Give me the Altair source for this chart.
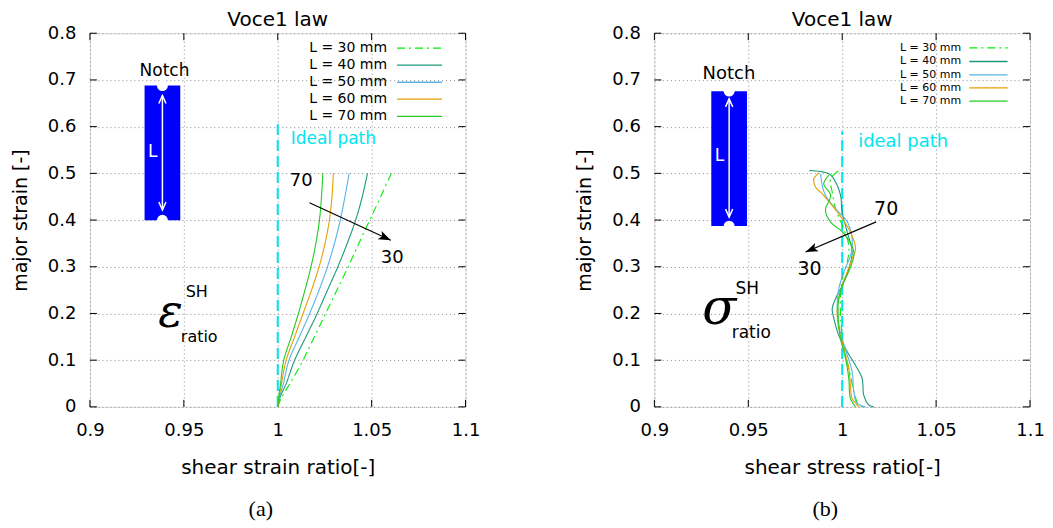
import altair as alt
import pandas as pd

# ---------------- data ----------------
x_ticks = [0.9, 0.95, 1.0, 1.05, 1.1]
y_ticks = [0.0, 0.1, 0.2, 0.3, 0.4, 0.5, 0.6, 0.7, 0.8]
series = ["L = 30 mm", "L = 40 mm", "L = 50 mm", "L = 60 mm", "L = 70 mm"]

# panel (a): shear strain ratio vs major strain
left_y = [0.0, 0.02, 0.05, 0.1, 0.15, 0.2, 0.25, 0.3, 0.35, 0.4, 0.45, 0.5]
left_x30 = [1.0, 1.002, 1.0065, 1.0135, 1.0195, 1.0255, 1.0315, 1.0375, 1.0432, 1.0490, 1.0548, 1.0605]
left_x40 = [1.0, 1.0012, 1.0045, 1.009, 1.015, 1.021, 1.0265, 1.032, 1.037, 1.0415, 1.0450, 1.0478]
left_x50 = [1.0, 1.0009, 1.003, 1.006, 1.0115, 1.017, 1.022, 1.0265, 1.0302, 1.0333, 1.0358, 1.0380]
left_x60 = [1.0, 1.0007, 1.002, 1.0045, 1.009, 1.0135, 1.0180, 1.0220, 1.0252, 1.0275, 1.0289, 1.0296]
left_x70 = [1.0, 1.0005, 1.0015, 1.0032, 1.0072, 1.011, 1.0145, 1.0177, 1.0203, 1.0222, 1.0233, 1.0240]

# panel (b): shear stress ratio vs major strain
r30_x = [0.9979, 0.9938, 0.9947, 0.9965, 1.0, 1.0035, 1.0027, 1.0, 0.9991, 0.9991, 1.0, 1.0018, 1.0044, 1.0062, 1.0089, 1.0124]
r30_y = [0.505, 0.488, 0.460, 0.424, 0.389, 0.346, 0.310, 0.275, 0.239, 0.196, 0.153, 0.111, 0.068, 0.032, 0.004, 0.0]
r40_x = [0.9826, 0.9929, 0.9965, 0.9991, 1.0, 1.0027, 1.0053, 1.0035, 1.0, 0.9965, 0.9947, 0.9956, 0.9982, 1.0027, 1.0071, 1.0106, 1.0115, 1.0142, 1.0168]
r40_y = [0.506, 0.499, 0.481, 0.453, 0.417, 0.374, 0.332, 0.296, 0.260, 0.232, 0.210, 0.189, 0.153, 0.118, 0.089, 0.061, 0.025, 0.004, 0.0]
r50_x = [0.9885, 0.9894, 0.9911, 0.9965, 1.0027, 1.0053, 1.0044, 1.0009, 0.9982, 0.9973, 0.9979, 1.0, 1.0027, 1.0053, 1.0062, 1.0080, 1.0124]
r50_y = [0.499, 0.474, 0.453, 0.424, 0.396, 0.360, 0.324, 0.289, 0.253, 0.217, 0.182, 0.146, 0.111, 0.075, 0.032, 0.007, 0.0]
r60_x = [0.9876, 0.9849, 0.9858, 0.9894, 0.9947, 1.0, 1.0044, 1.0071, 1.0053, 1.0027, 1.0, 0.9982, 0.9973, 0.9982, 1.0, 1.0018, 1.0035, 1.0044, 1.0053, 1.0089]
r60_y = [0.501, 0.488, 0.471, 0.456, 0.431, 0.403, 0.374, 0.339, 0.317, 0.289, 0.260, 0.232, 0.203, 0.168, 0.139, 0.111, 0.082, 0.046, 0.018, 0.0]
r70_x = [0.9929, 0.9902, 0.9938, 0.9911, 0.9938, 1.0009, 1.0062, 1.0044, 1.0009, 0.9982, 0.9979, 0.9991, 1.0018, 1.0035, 1.0044, 1.0071]
r70_y = [0.496, 0.478, 0.453, 0.421, 0.396, 0.371, 0.332, 0.299, 0.267, 0.232, 0.189, 0.146, 0.103, 0.061, 0.018, 0.0]

colors_left = ["#00ee00", "#1a9a7a", "#56b4e9", "#e69f00", "#22cc22"]
colors_right = ["#00ee00", "#1a9a7a", "#8ccbe9", "#e0a840", "#00ee00"]
dashes = [[8, 4, 2, 4], [1, 0], [1, 0], [1, 0], [1, 0]]

FONT = "DejaVu Sans"
W, H = 376, 374

xs = alt.Scale(domain=[0.9, 1.1], nice=False, zero=False)
ys = alt.Scale(domain=[0, 0.8], nice=False, zero=False)


def make_panel(curve_df, xtitle, p):
    xaxis = alt.Axis(values=x_ticks, format="~g", title=xtitle, grid=True, gridDash=[1, 3],
                     gridColor="#888888", ticks=False, domain=False, labelFont=FONT,
                     labelFontSize=18, labelColor="black", labelPadding=15, labelFlush=False,
                     labelOverlap=False, titleFont=FONT, titleFontSize=20,
                     titleFontWeight="normal", titleColor="black", titlePadding=18)
    yaxis = alt.Axis(values=y_ticks, format="~g", title="major strain [-]", grid=True,
                     gridDash=[1, 3], gridColor="#888888", ticks=False, domain=False,
                     labelFont=FONT, labelFontSize=18, labelColor="black", labelPadding=14,
                     labelOverlap=False, titleFont=FONT, titleFontSize=19,
                     titleFontWeight="normal", titleColor="black", titlePadding=17)

    def X(f):
        return alt.X(f, type="quantitative", scale=xs, axis=xaxis)

    def Y(f):
        return alt.Y(f, type="quantitative", scale=ys, axis=yaxis)

    color = alt.Color("series:N", scale=alt.Scale(domain=series, range=p["colors"]), legend=None)
    dash = alt.StrokeDash("series:N", scale=alt.Scale(domain=series, range=dashes), legend=None)

    curves = alt.Chart(curve_df).mark_line(strokeWidth=1.1, interpolate="catmull-rom").encode(
        x=X("x"), y=Y("y"), color=color, strokeDash=dash, order=alt.Order("i:Q"))

    ideal_df = pd.DataFrame({"x": [1.0, 1.0], "y": [0.0, p["ideal_top"]]})
    ideal = alt.Chart(ideal_df).mark_line(color="#00e5ee", strokeWidth=2, strokeDash=[11, 5]).encode(
        x=X("x"), y=Y("y"))
    ideal_lbl = alt.Chart(pd.DataFrame({"x": [p["ideal_text"][0]], "y": [p["ideal_text"][1]],
                                        "t": [p["ideal_text"][2]]})).mark_text(
        align="left", baseline="middle", font=FONT, fontSize=p["ideal_fs"], color="#00e5ee").encode(
        x=X("x"), y=Y("y"), text="t:N")

    # legend (label on the left, sample on the right, like gnuplot)
    leg_df = pd.DataFrame({"series": series, "ly": p["leg_y"],
                           "tx": [p["leg_tx"]] * 5, "lx1": [p["leg_l1"]] * 5, "lx2": [p["leg_l2"]] * 5})
    leg_txt = alt.Chart(leg_df).mark_text(align="right", baseline="middle", font=FONT,
                                          fontSize=p["leg_fs"], color="black").encode(
        x=X("tx"), y=Y("ly"), text="series:N")
    leg_line = alt.Chart(leg_df).mark_rule(strokeWidth=1.3).encode(
        x=X("lx1"), x2="lx2", y=Y("ly"), color=color, strokeDash=dash)

    # notch specimen icon
    n = p["notch"]
    rect = alt.Chart(pd.DataFrame({"x1": [n["x1"]], "x2": [n["x2"]], "y1": [n["y1"]], "y2": [n["y2"]]})).mark_rect(
        color="#0000ff").encode(x=X("x1"), x2="x2", y=Y("y1"), y2="y2")
    xc = (n["x1"] + n["x2"]) / 2
    holes = alt.Chart(pd.DataFrame({"x": [xc, xc], "y": [n["y1"], n["y2"]]})).mark_point(
        shape="circle", filled=True, color="white", opacity=1, size=120).encode(x=X("x"), y=Y("y"))
    dim_line = alt.Chart(pd.DataFrame({"x": [xc, xc], "y": [n["tip_top"], n["tip_bot"]]})).mark_line(
        color="white", strokeWidth=1.5).encode(x=X("x"), y=Y("y"))
    head_up = alt.Chart(pd.DataFrame({"x": [xc], "y": [n["tip_top"]]})).mark_point(
        shape="M-0.45,1L0,0L0.45,1", filled=False, color="white", strokeWidth=1.5, opacity=1, size=256).encode(
        x=X("x"), y=Y("y"))
    head_dn = alt.Chart(pd.DataFrame({"x": [xc], "y": [n["tip_bot"]]})).mark_point(
        shape="M-0.45,-1L0,0L0.45,-1", filled=False, color="white", strokeWidth=1.5, opacity=1, size=256).encode(
        x=X("x"), y=Y("y"))
    l_lbl = alt.Chart(pd.DataFrame({"x": [n["Lx"]], "y": [n["Ly"]], "t": ["L"]})).mark_text(
        font=FONT, fontSize=17, color="white", baseline="middle").encode(x=X("x"), y=Y("y"), text="t:N")
    notch_lbl = alt.Chart(pd.DataFrame({"x": [n["tx"]], "y": [n["ty"]], "t": ["Notch"]})).mark_text(
        font=FONT, fontSize=n["tfs"], color="black", baseline="middle").encode(x=X("x"), y=Y("y"), text="t:N")

    # trend arrow 70 -> 30
    a = p["arrow"]
    arr_line = alt.Chart(pd.DataFrame({"x": [a["x0"], a["x1"]], "y": [a["y0"], a["y1"]], "i": [0, 1]})).mark_line(
        color="black", strokeWidth=1.2).encode(x=X("x"), y=Y("y"), order=alt.Order("i:Q"))
    arr_head = alt.Chart(pd.DataFrame({"x": [a["x1"]], "y": [a["y1"]]})).mark_point(
        shape="M0,0L-0.4,1.1L0,0.85L0.4,1.1Z", filled=True, color="black", opacity=1, size=500,
        angle=a["angle"]).encode(x=X("x"), y=Y("y"))
    nums = alt.Chart(pd.DataFrame({"x": a["lx"], "y": a["ly"], "t": ["70", "30"]})).mark_text(
        font=FONT, fontSize=a["fs"], color="black", baseline="middle").encode(x=X("x"), y=Y("y"), text="t:N")

    # symbol with super/subscripts
    s = p["sym"]
    sym = alt.Chart(pd.DataFrame({"x": [s["x"]], "y": [s["y"]], "t": [s["char"]]})).mark_text(
        font="DejaVu Serif", fontStyle="italic", fontSize=s["fs"], color="black",
        baseline="alphabetic").encode(x=X("x"), y=Y("y"), text="t:N")
    scripts = alt.Chart(pd.DataFrame({"x": s["sx"], "y": s["sy"], "t": ["SH", "ratio"]})).mark_text(
        font=FONT, fontSize=s["sfs"], color="black", baseline="middle").encode(x=X("x"), y=Y("y"), text="t:N")

    # inward ticks on all four sides (gnuplot style)
    txd = pd.DataFrame({"v": x_ticks})
    tyd = pd.DataFrame({"v": y_ticks})
    tb = alt.Chart(txd).mark_rule(color="black").encode(x=X("v"), y=alt.value(H), y2=alt.value(H - 7))
    tt = alt.Chart(txd).mark_rule(color="black").encode(x=X("v"), y=alt.value(0), y2=alt.value(7))
    tl = alt.Chart(tyd).mark_rule(color="black").encode(y=Y("v"), x=alt.value(0), x2=alt.value(7))
    tr = alt.Chart(tyd).mark_rule(color="black").encode(y=Y("v"), x=alt.value(W), x2=alt.value(W - 7))

    # panel title above and caption below the plot
    ttl = alt.Chart(pd.DataFrame({"t": ["Voce1 law"]})).mark_text(
        font=FONT, fontSize=20, color="black", baseline="middle").encode(
        x=alt.value(W / 2), y=alt.value(-13), text="t:N")
    cap = alt.Chart(pd.DataFrame({"t": [p["caption"]]})).mark_text(
        font="Liberation Serif", fontSize=22, color="black", baseline="middle").encode(
        x=alt.value(W / 2 - 17), y=alt.value(H + 102), text="t:N")

    return alt.layer(
        tb, tt, tl, tr, ideal, curves, ideal_lbl, leg_line, leg_txt, rect, dim_line, holes,
        head_up, head_dn, l_lbl, notch_lbl, arr_line, arr_head, nums, sym, scripts, ttl, cap
    ).properties(width=W, height=H)


def long_df(xlists, ylists):
    rows = []
    for name, xl, yl in zip(series, xlists, ylists):
        for i, (xv, yv) in enumerate(zip(xl, yl)):
            rows.append({"series": name, "x": xv, "y": yv, "i": i})
    return pd.DataFrame(rows)


left_df = long_df([left_x30, left_x40, left_x50, left_x60, left_x70], [left_y] * 5)
right_df = long_df([r30_x, r40_x, r50_x, r60_x, r70_x], [r30_y, r40_y, r50_y, r60_y, r70_y])

left_p = {
    "colors": colors_left, "ideal_top": 0.605, "ideal_text": (1.0069, 0.573, "Ideal path"), "ideal_fs": 17,
    "leg_y": [0.768, 0.7315, 0.695, 0.659, 0.622], "leg_tx": 1.0582, "leg_l1": 1.0635, "leg_l2": 1.0875,
    "leg_fs": 14,
    "notch": {"x1": 0.9291, "x2": 0.9481, "y1": 0.688, "y2": 0.3994, "tip_top": 0.6667, "tip_bot": 0.4214,
              "Lx": 0.9335, "Ly": 0.545, "tx": 0.9397, "ty": 0.72, "tfs": 17},
    "arrow": {"x0": 1.0169, "y0": 0.437, "x1": 1.0602, "y1": 0.3566, "angle": 115,
              "lx": [1.0125, 1.061], "ly": [0.483, 0.319], "fs": 18},
    "sym": {"char": "ε", "x": 0.9429, "y": 0.171, "fs": 46, "sx": [0.9569, 0.9582], "sy": [0.246, 0.150], "sfs": 16},
    "caption": "(a)",
}
right_p = {
    "colors": colors_right, "ideal_top": 0.59, "ideal_text": (1.0085, 0.567, "ideal path"), "ideal_fs": 18,
    "leg_y": [0.7686, 0.7395, 0.7108, 0.683, 0.6545], "leg_tx": 1.0633, "leg_l1": 1.0677, "leg_l2": 1.0881,
    "leg_fs": 11,
    "notch": {"x1": 0.9303, "x2": 0.9493, "y1": 0.676, "y2": 0.387, "tip_top": 0.6595, "tip_bot": 0.4064,
              "Lx": 0.9347, "Ly": 0.538, "tx": 0.9397, "ty": 0.713, "tfs": 18},
    "arrow": {"x0": 1.0181, "y0": 0.396, "x1": 0.9805, "y1": 0.3316, "angle": 247,
              "lx": [1.0234, 0.9826], "ly": [0.424, 0.2945], "fs": 19},
    "sym": {"char": "σ", "x": 0.9346, "y": 0.178, "fs": 50, "sx": [0.9495, 0.9516], "sy": [0.252, 0.158], "sfs": 17},
    "caption": "(b)",
}

chart = alt.hconcat(
    make_panel(left_df, "shear strain ratio[-]", left_p),
    make_panel(right_df, "shear stress ratio[-]", right_p),
    spacing=94,
).properties(
    padding={"left": 2, "top": 1, "right": 0, "bottom": 0}
).configure_view(
    stroke="black", strokeWidth=1
).configure(background="white")

chart.save("out.html", embed_options={"renderer": "svg", "actions": False})
